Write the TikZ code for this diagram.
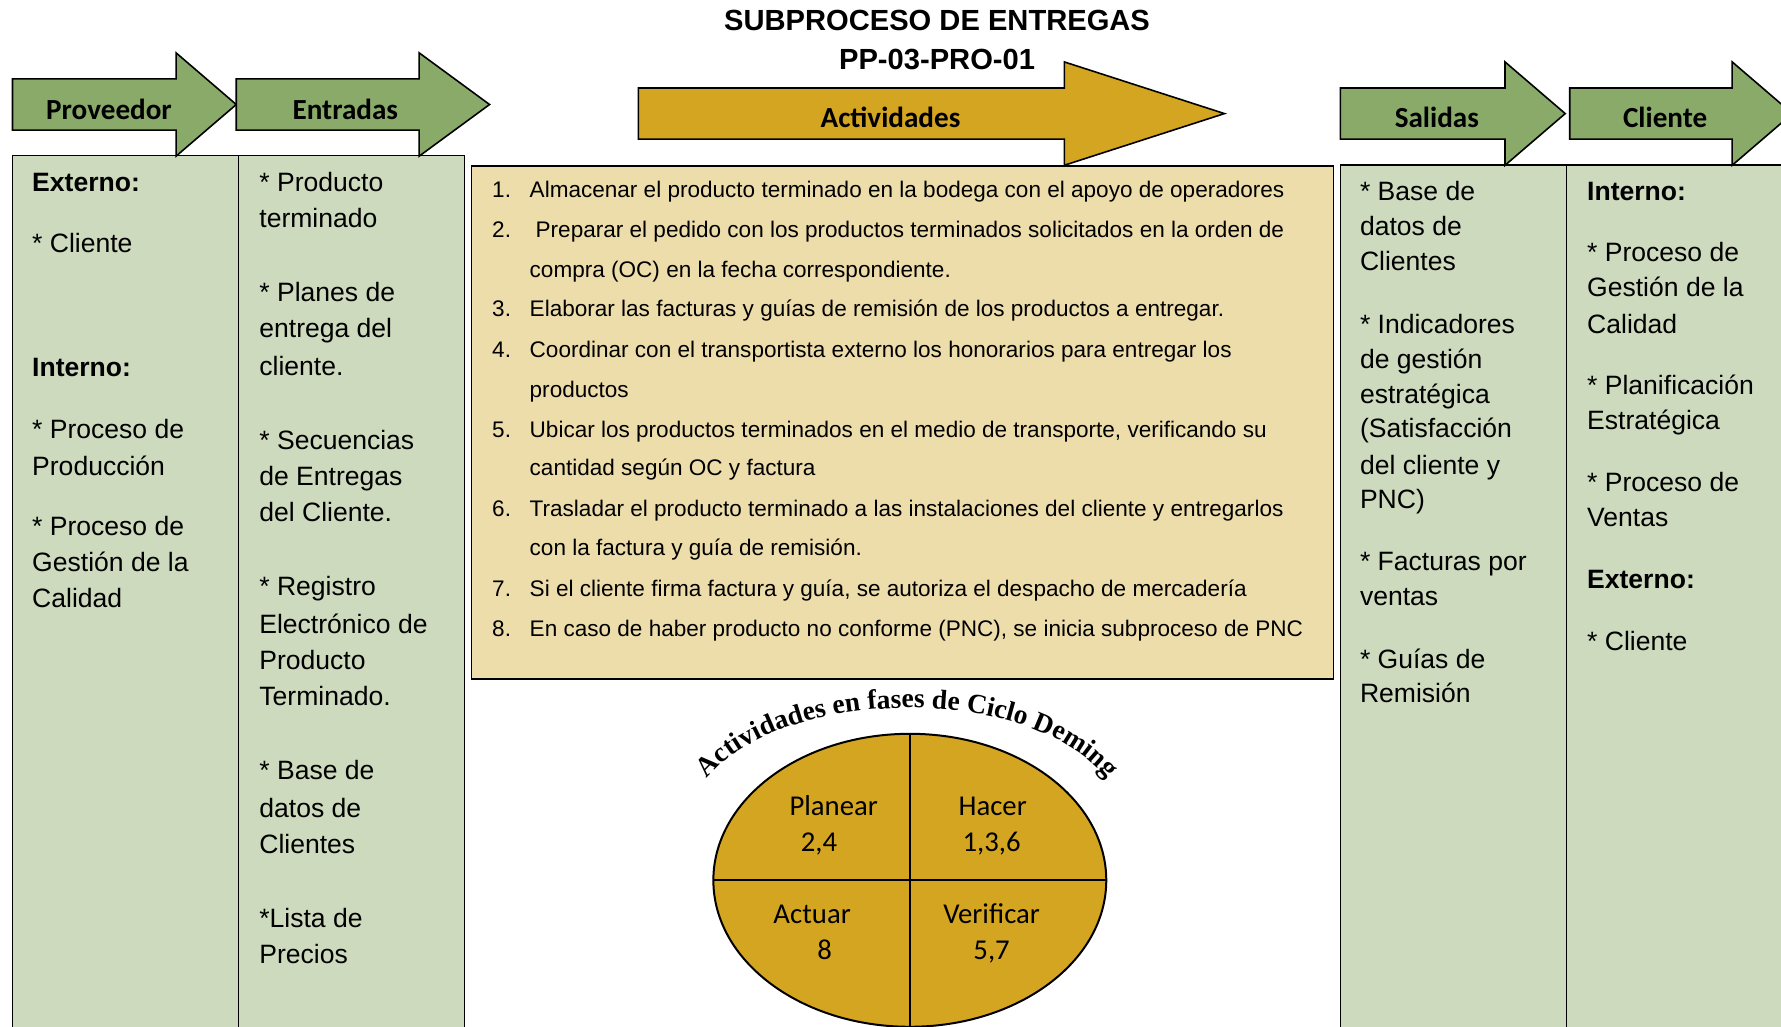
\documentclass[tikz,border=0pt]{standalone}
\usepackage{fontspec}
\setmainfont{Liberation Sans}
\newfontfamily\calibrifont{Carlito}
\newfontfamily\arcofont{Liberation Serif}
\usetikzlibrary{decorations.text}
\definecolor{verdeflecha}{RGB}{138,170,106}
\definecolor{verdecaja}{RGB}{205,218,189}
\definecolor{oro}{RGB}{212,165,32}
\definecolor{crema}{RGB}{237,221,171}

\begin{document}
\begin{tikzpicture}[x=0.02cm,y=-0.02cm,
    flecha/.style={draw=black, line width=0.8pt, line join=miter},
    caja/.style={draw=black, line width=0.8pt, fill=verdecaja},
    etiqueta/.style={font=\calibrifont\bfseries\fontsize{14.6}{17}\selectfont},
    linea/.style={anchor=base west, inner sep=0pt, font=\fontsize{13.3}{16}\selectfont},
    actlinea/.style={anchor=base west, inner sep=0pt, font=\fontsize{11.3}{13}\selectfont},
    fase/.style={anchor=base, inner sep=0pt, font=\calibrifont\fontsize{14.4}{17}\selectfont}]
        \useasboundingbox (0,0) rectangle (1568,904);
        \clip (0,0) rectangle (1568,904);
        % Title
        \node[font=\bfseries\fontsize{14.6}{17}\selectfont] (titulo) at (825,18) {SUBPROCESO DE ENTREGAS};
        \node[font=\bfseries\fontsize{14.6}{17}\selectfont] (codigo) at (825,52) {PP-03-PRO-01};
        % Column boxes
        \draw[caja] (11,137) rectangle (210,920);
        \draw[caja] (210,137) rectangle (409,920);
        \draw[caja] (1180,145) rectangle (1379,920);
        \draw[caja] (1379,145) rectangle (1600,920);
        \draw[draw=black, line width=0.8pt, fill=crema] (415,146) rectangle (1174,598);
        % Header arrows
        \foreach \xi/\xh/\xt/\yc/\col in {11/155/208/92/verdeflecha, 208/369/431/92/verdeflecha,
            562/937/1078/100/oro, 1180/1325/1378/100/verdeflecha, 1382/1525/1578/100/verdeflecha} {
            \draw[flecha, fill=\col] (\xi,\yc-22.5) -- (\xh,\yc-22.5) -- (\xh,\yc-45.5) -- (\xt,\yc)
                -- (\xh,\yc+45.5) -- (\xh,\yc+22.5) -- (\xi,\yc+22.5) -- cycle;
        }
        \node[etiqueta] (proveedor) at (96,96) {Proveedor};
        \node[etiqueta] (entradas) at (304,96) {Entradas};
        \node[etiqueta] (actividades) at (784,103) {Actividades};
        \node[etiqueta] (salidas) at (1265,103) {Salidas};
        \node[etiqueta] (cliente) at (1466,103) {Cliente};
        % Proveedor column
        \foreach \y/\t [count=\i] in {160/\textbf{Externo:}, 214/* Cliente, 323/\textbf{Interno:},
            378/* Proceso de, 410/Producción, 463/* Proceso de, 495/Gestión de la, 526/Calidad} {
            \node[linea] (prov-\i) at (28,\y+8.4) {\t};
        }
        % Entradas column
        \foreach \y/\t [count=\i] in {160/* Producto, 192/terminado, 257/* Planes de, 289/entrega del,
            322/cliente., 387/* Secuencias, 419/de Entregas, 451/del Cliente., 516/* Registro,
            549/Electrónico de, 581/Producto, 613/Terminado., 678/* Base de, 711/datos de,
            743/Clientes, 808/*Lista de, 840/Precios} {
            \node[linea] (ent-\i) at (228,\y+8.4) {\t};
        }
        % Salidas column
        \foreach \y/\t [count=\i] in {168/* Base de, 199/datos de, 230/Clientes, 285/* Indicadores,
            316/de gestión, 347/estratégica, 377/(Satisfacción, 409/del cliente y, 439/PNC),
            494/* Facturas por, 525/ventas, 580/* Guías de, 610/Remisión} {
            \node[linea] (sal-\i) at (1197,\y+8.4) {\t};
        }
        % Cliente column
        \foreach \y/\t [count=\i] in {168/\textbf{Interno:}, 222/* Proceso de, 253/Gestión de la,
            285/Calidad, 339/* Planificación, 370/Estratégica, 424/* Proceso de, 455/Ventas,
            510/\textbf{Externo:}, 564/* Cliente} {
            \node[linea] (cli-\i) at (1397,\y+8.4) {\t};
        }
        % Activities list
        \foreach \y/\n [count=\i] in {167/1., 202/2., 272/3., 308/4., 378/5., 448/6., 518/7., 553/8.} {
            \node[actlinea] (num-\i) at (433,\y+7) {\n};
        }
        \foreach \y/\t [count=\i] in {
            167/Almacenar el producto terminado en la bodega con el apoyo de operadores,
            202/{\hspace{3pt}Preparar el pedido con los productos terminados solicitados en la orden de},
            237/compra (OC) en la fecha correspondiente.,
            272/Elaborar las facturas y guías de remisión de los productos a entregar.,
            308/Coordinar con el transportista externo los honorarios para entregar los,
            343/productos,
            378/{Ubicar los productos terminados en el medio de transporte, verificando su},
            412/cantidad según OC y factura,
            448/Trasladar el producto terminado a las instalaciones del cliente y entregarlos,
            482/con la factura y guía de remisión.,
            518/{Si el cliente firma factura y guía, se autoriza el despacho de mercadería},
            553/{En caso de haber producto no conforme (PNC), se inicia subproceso de PNC}} {
            \node[actlinea] (act-\i) at (466,\y+7) {\t};
        }
        % Deming cycle
        \coordinate (deming) at (801,775);
        \draw[fill=oro, line width=1pt] (deming) ellipse [x radius=3.46cm, y radius=2.58cm];
        \draw[line width=1pt] ([yshift=2.58cm]deming) -- ([yshift=-2.58cm]deming);
        \draw[line width=1pt] ([xshift=-3.46cm]deming) -- ([xshift=3.46cm]deming);
        \path[decorate, decoration={text along path, text align=center,
            text={|\arcofont\bfseries\fontsize{13.8}{17}\selectfont|Actividades en fases de Ciclo Deming}}]
            (617,693) .. controls (680,600) and (920,600) .. (980,693);
        \foreach \x/\y/\t [count=\i] in {734/710/Planear, 721/742/{2,4}, 874/710/Hacer, 873/742/{1,3,6},
            715/805/Actuar, 726/837/8, 873/805/Verificar, 873/837/{5,7}} {
            \node[fase] (fase-\i) at (\x,\y+8) {\t};
        }
\end{tikzpicture}
\end{document}
